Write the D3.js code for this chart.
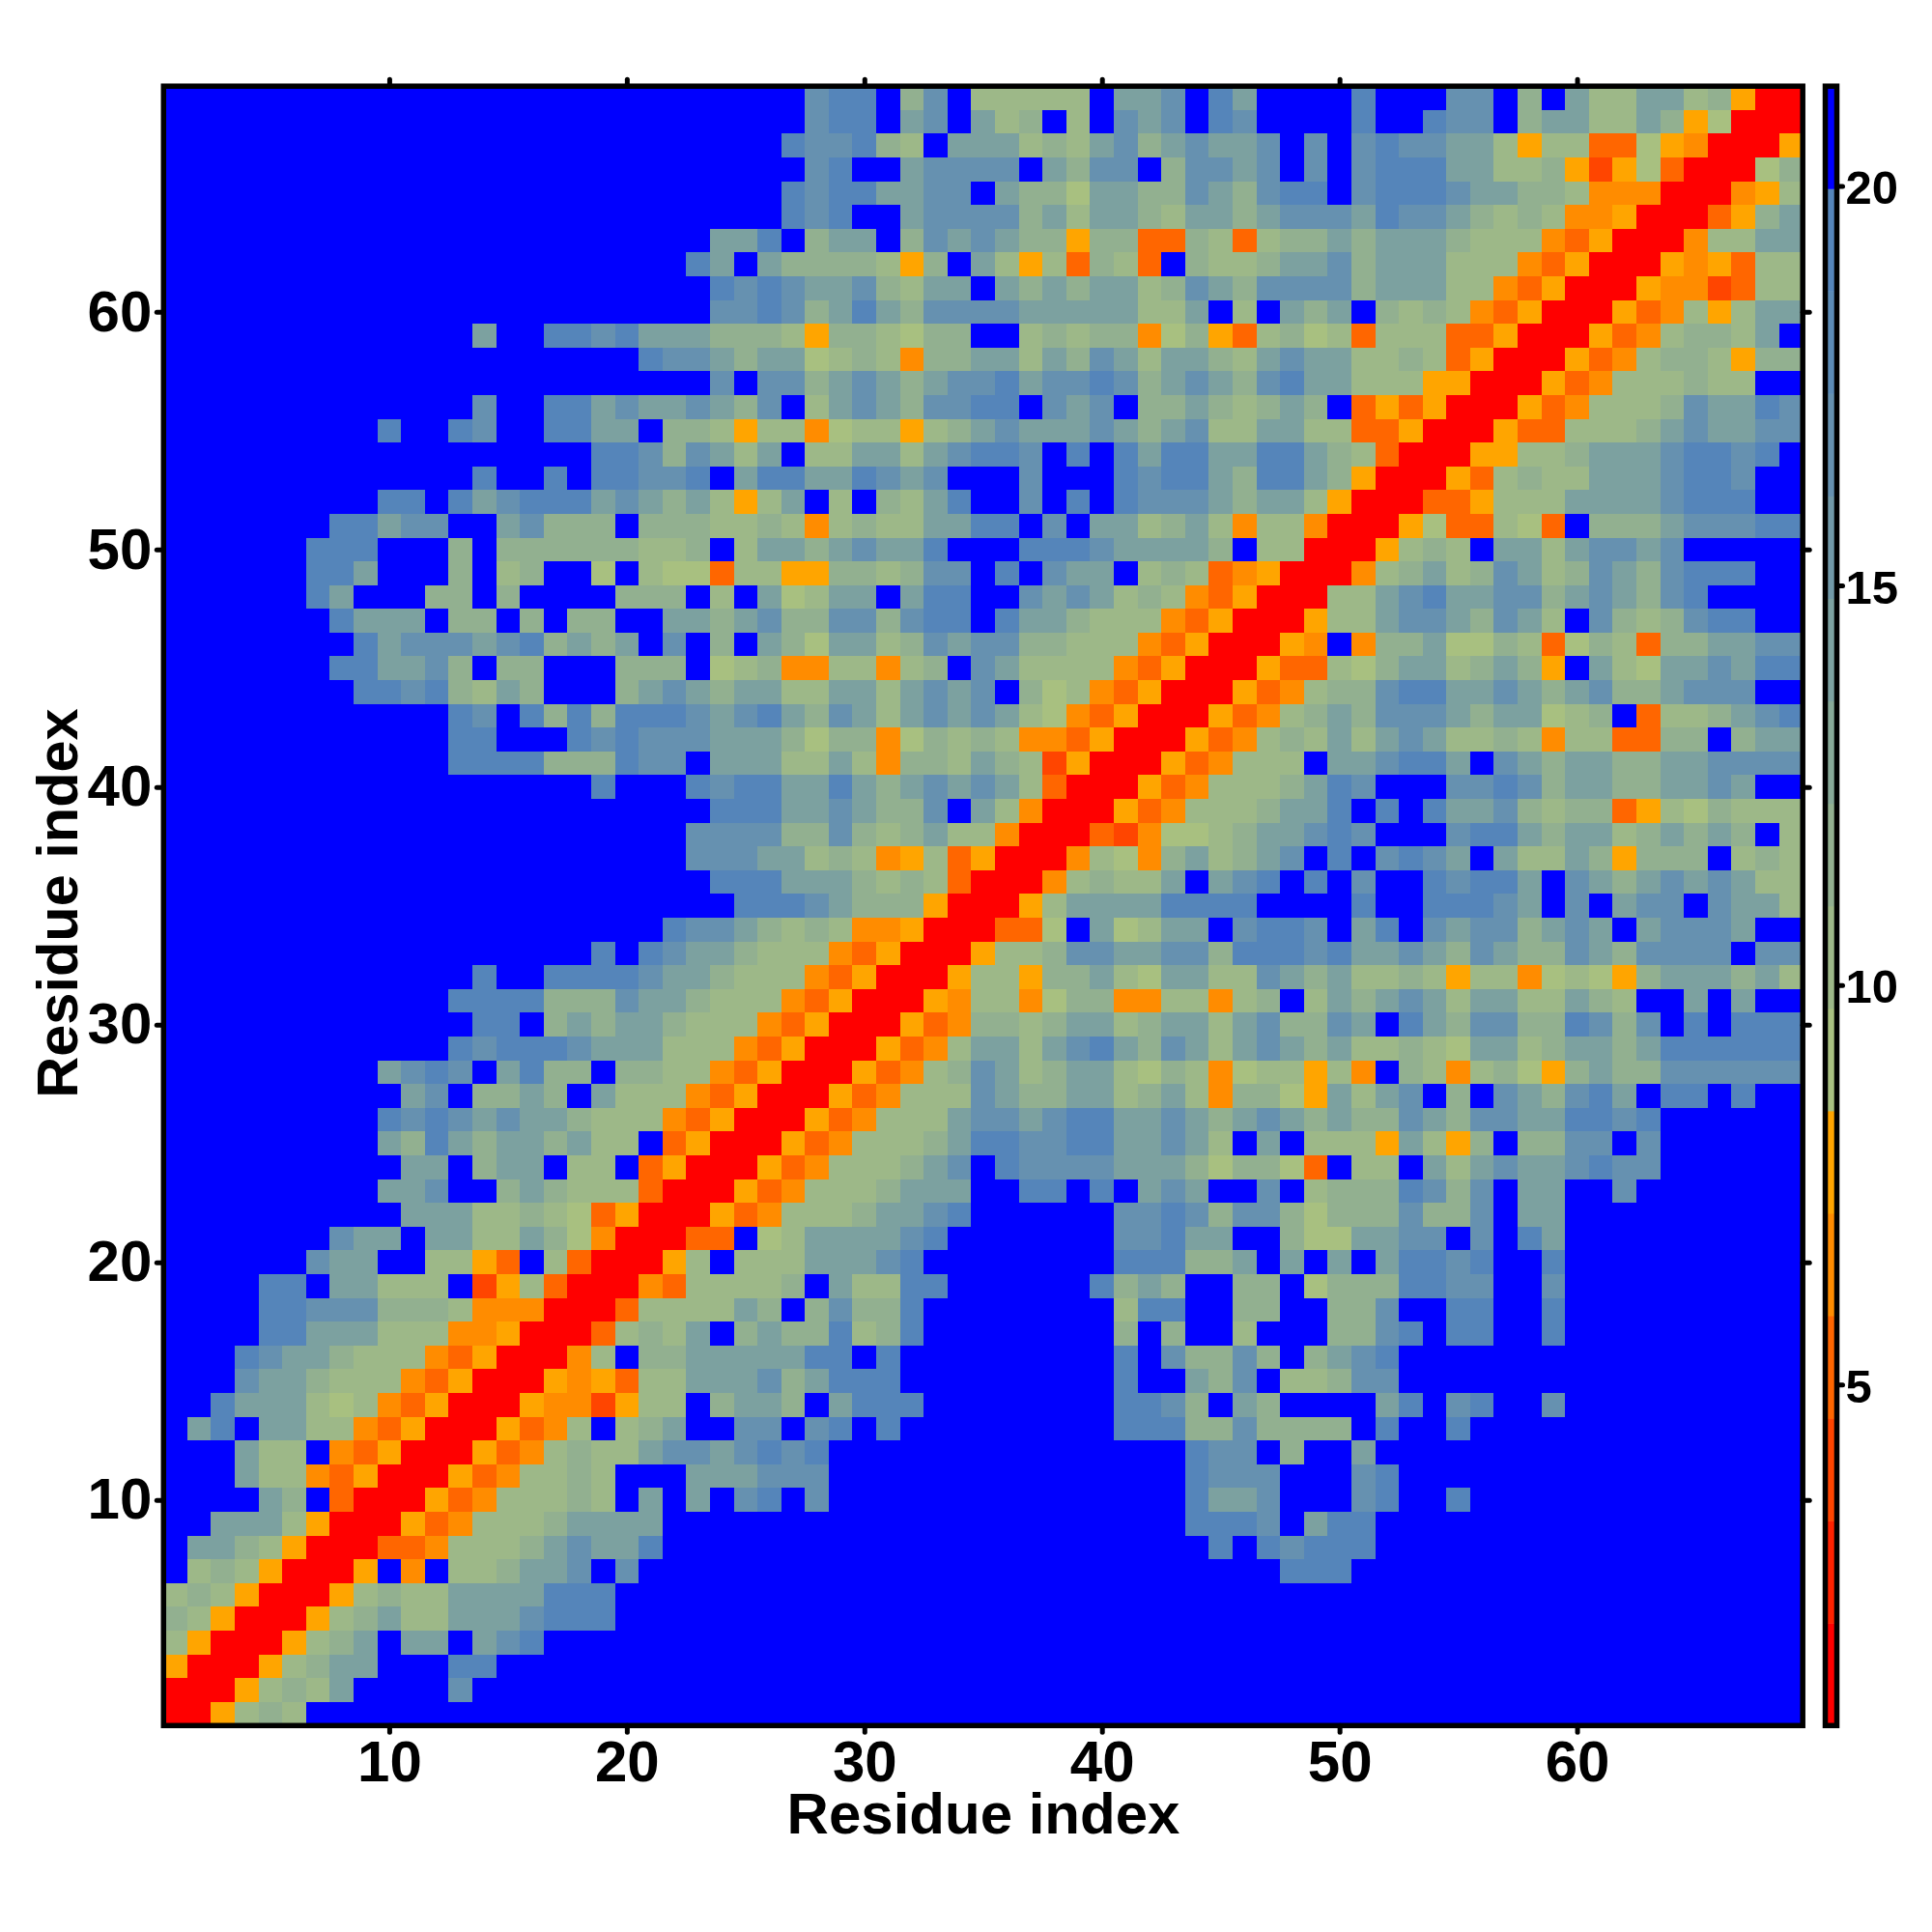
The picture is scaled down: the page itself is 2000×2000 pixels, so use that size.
<!DOCTYPE html>
<html>
<head>
<meta charset="utf-8">
<style>
html,body{margin:0;padding:0;background:#fff}
svg{display:block}
text{font-family:"Liberation Sans",Arial,sans-serif;font-weight:bold;fill:#000}
</style>
<script src="https://cdn.jsdelivr.net/npm/d3@7"></script>
</head>
<body>
<svg id="chart" width="2000" height="2000"></svg>
<script>
// Residue index rows, top row (69) first; each row = three 23-cell groups of level letters
const gridRows = [
"BBBBBBBBBBBBBBBBBBBBBBB BBBBbaaBdbBeeeeeBccbBac BBBBaBBBbbBdBceeccedorr",
"BBBBBBBBBBBBBBBBBBBBBBB BBBBbaaBcbBcedBeBbcbBab BBBBaBBabbBdcceecdofrrr",
"BBBBBBBBBBBBBBBBBBBBBBB BBBabbadeBcccedecbdcbcc bBbBbabbcceoeemmfonrrro",
"BBBBBBBBBBBBBBBBBBBBBBB BBBBbaBBcbbbbBcdbbBdbbc bBbBbaaacceedolofmrrrfd",
"BBBBBBBBBBBBBBBBBBBBBBB BBBabaaccbbBcddfccddbcd baaBbaaabccddennnrrrnoe",
"BBBBBBBBBBBBBBBBBBBBBBB BBBabaBBcbbbbdceccdeccd cbbbcabbcdedennorrrmodc",
"BBBBBBBBBBBBBBBBBBBBBBB ccaBdccBdbcbcddoddmmdem eddcdcccdeeenmorrrneecc",
"BBBBBBBBBBBBBBBBBBBBBBa cBcddddeodBceoemdemBdee dccbdccceeenmorrronomee",
"BBBBBBBBBBBBBBBBBBBBBBB ababccbdeccBcdcdccedbcd bbbbdccceenmorrronnlmee",
"BBBBBBBBBBBBBBBBBBBBBBB bbabdcacdbbbbccccceecBe BcdcBdedenmorrromneoecc",
"BBBBBBBBBBBBBcBBaabaccc dddeoddefddBBededdnfdom edfemeeemmorrromneddecB",
"BBBBBBBBBBBBBBBBBBBBabb cdccfedenddccecdbceccde cbcceedemorrromneddeodd",
"BBBBBBBBBBBBBBBBBBBBBBB bBbbdcbcdcbbacbbabdcbcd bacceeeoorrromneeedeeBB",
"BBBBBBBBBBBBBbBBaacbccb cdbBecbcdbbaaBbcbBddcde dcdBmomorrromneeedbccab",
"BBBBBBBBBaBBabBBaaccBdd eoeenfeeoedcbcccbcdcbee cceemmorrrommeeedcbccbb",
"BBBBBBBBBBBBBBBBBBaabdb cecBeeccecbaabBaBacaacc aacdemrrrooeedcccbaabaB",
"BBBBBBBBBBBBBaBBaBaabba BcaaccabcbBBBbBBBabaacd aacdorrromedeecccbaabBB",
"BBBBBBBBBaaBacbaaacbcdc eoecBeBdecaBBbBaBabbbcd cceorrrmmoeeeccccbaaaBB",
"BBBBBBBaacbbBBcbdddBddd eedenedeeccaaBbBccedcen eenrrrofmmefmBdddcbbbaa",
"BBBBBBaaaBBBdBddddddeed BeccdcbccaBBBaaabccccdB eerrroedeBccecbbcbBBBBB",
"BBBBBBaacBBBdBedBBfBeff meeooddedbbBaBbccBedemn orrrnedcedbcedbcdbaaaBB",
"BBBBBBacBBBddBdBBBBdddB eBcfeccBcaaBBbcbcedenmo rrreecbaccbbdcbcdbaBBBB",
"BBBBBBBacccBddBdBddBBcc dcbddbbdbaaBaccdeeenmor rroeecbbcdbceBbdedbaaBB",
"BBBBBBBBacbbbcbadcdcBbB dBcdfccedbcbbddeeenmorr ronBnddcffdemfdemddccbb",
"BBBBBBBaaccbdBddBBBdddB fednneenedBbceeeenmorrr ommefdccedcdoBcefccbcaa",
"BBBBBBBBaabadecdBBBdcbc dcceeccecbcbBdfenmorrro mneddbaaccbcdcbddcbbbBB",
"BBBBBBBBBBBBabBadadaaab cbacdbcecbcbcefnmorrrom nedcdbbbcdccfedBmeedcba",
"BBBBBBBBBBBBaaBBBababbb cccdfddnfdedennmorrromn edececbceedeneemmddBdcc",
"BBBBBBBBBBBBaaaadddabbB ccceecenddecdelorrromne eeBccbaacBbcdccddccbbbb",
"BBBBBBBBBBBBBBBBBBaBBBa baaccacdcbcbcemrrromnee edcabBBBbbabdccddccbcBB",
"BBBBBBBBBBBBBBBBBBBBBBB aaaccbcddbBcenrrromneee dccaBaBaccbdeddmoefdeee",
"BBBBBBBBBBBBBBBBBBBBBBb bbbddbdedceenrrrmlnffed ccbabBBBbaacdccedcdcdBe",
"BBBBBBBBBBBBBBBBBBBBBBb bbccedenoemorrrnefndced cbBaBbabcBceecdodddBede",
"BBBBBBBBBBBBBBBBBBBBBBB aaacccdedemrrrnedeecBcb aBaBbBBabaacBbcdcbcbcee",
"BBBBBBBBBBBBBBBBBBBBBBB Baaabcdddorrroeccccaaaa BBBBaBBaaabcBbBcbbBbcce",
"BBBBBBBBBBBBBBBBBBBBBab bcdedennorrrmmfBcfeccBb aabBcaBbcbbdcbcBcbbbcBB",
"BBBBBBBBBBBBBBBBBBaBabc cdeeenmorrroeedbbccbbda aabaccbcdbcddbcdbbbbBbb",
"BBBBBBBBBBBBBaBBaaaabcc deeenmorrroeeoddcefccee bcdceedeoeenfefodcccdce",
"BBBBBBBBBBBBaaaadddbccd eeenmorrroneenfddnneene dBecdcbcecceecdeBBcBcBB",
"BBBBBBBBBBBBBaaBdcdccde eenmorrromnddedccedccec bddbcBacdbbddabdbBaBaaa",
"BBBBBBBBBBBBabaaabcccee enmorrromneccecbacdbcec bcdceedefccedccdcaaaaaa",
"BBBBBBBBBcbabBcaddBddee nmorrromnedbcedccefdenf eeoenBdenedfodcddbbbbbb",
"BBBBBBBBBBcbBddcdBceeen morrromneeebcddccedcend dfocecbBdBbcdbacBaaBaBB",
"BBBBBBBBBababcbccdeeenm orrromneeecbbcbaaccbcdc bcdcddbcdbbccaabaBBBBBB",
"BBBBBBBBBcdacdccdceeBmo rrromneeedcaabbaaccbceB cBeeeoceodBddbbBbBBBBBB",
"BBBBBBBBBBccBdccBeeBmor rromneeedcbBabbbbcccdfd dfmBeeBcecbccbabbBBBBBB",
"BBBBBBBBBccbBBdcdeeemrr romneeedcccBBaaBaBcbcBB bBedddabdbBccBBbBBBBBBB",
"BBBBBBBBBBccceedefmorrr omneeedccbaBBBBBBbbabdb bdfdddbddbBccBBBBBBBBBB",
"BBBBBBBbccBcceecdfnrrrm mBfeccccbaBBBBBBBbbaccB BdffccbbBbBacBBBBBBBBBB",
"BBBBBBbccBBeeomBemrrroe BeeecccbaBBBBBBBBaaaddc BcBcBcaabaBBaBBBBBBBBBB",
"BBBBaaBcceeeBloemrrrnme eeedBceeaaBBBBBBadcdBBd dBfdddaabbBBbBBBBBBBBBB",
"BBBBaabbbdddennnrrrmeee ecdBdbddaBBBBBBBBeaaBBd dBBddbBBaaBBaBBBBBBBBBB",
"BBBBaaccceeennorrrmedec BdcddaedaBBBBBBBBdBdBBe BBBddbaBaaBBaBBBBBBBBBB",
"BBBabccdeeenmorrrneBddc ccccaaBaBBBBBBBBBaBbddb dBdcbaBBBBBBBBBBBBBBBBB",
"BBBbccdeeenmorrronomeec ccbdcaaaBBBBBBBBBaBBcdb BeedbbBBBBBBBBBBBBBBBBB",
"BBacccefenmorrronnloeeB dccdBcaaaBBBBBBBBaabdBc dBBBBcaBbaBBbBBBBBBBBBB",
"BcaBcceenmorrromneBedcB BbbBbaBaBBBBBBBBBaaaddb ddddBaBBaBBBBBBBBBBBBBB",
"BBBceeBnmorrromnedeecbb cbabaBBBBBBBBBBBBBBBabb BdBBcBBBBBBBBBBBBBBBBBB",
"BBBceenmorrromneedeBBBc ccbbbBBBBBBBBBBBBBBBabb bBBBbaBBBBBBBBBBBBBBBBB",
"BBBBcdBmrrromneeedeBcBc BbaBbBBBBBBBBBBBBBBBacc bBBBbaBBaBBBBBBBBBBBBBB",
"BBccceorrromneeedccccBB BBBBBBBBBBBBBBBBBBBBaaa bBcaaBBBBBBBBBBBBBBBBBB",
"BccdeorrrmmneeedcbccaBB BBBBBBBBBBBBBBBBBBBBBaB abaaaBBBBBBBBBBBBBBBBBB",
"BedeorrroBnBeedccbBbBBB BBBBBBBBBBBBBBBBBBBBBBB BaaaBBBBBBBBBBBBBBBBBBB",
"edeorrroedeeccccaaaBBBB BBBBBBBBBBBBBBBBBBBBBBB BBBBBBBBBBBBBBBBBBBBBBB",
"deorrroedceecccbaaaBBBB BBBBBBBBBBBBBBBBBBBBBBB BBBBBBBBBBBBBBBBBBBBBBB",
"eorrroedcBccBcbaBBBBBBB BBBBBBBBBBBBBBBBBBBBBBB BBBBBBBBBBBBBBBBBBBBBBB",
"orrroedccBBBaaBBBBBBBBB BBBBBBBBBBBBBBBBBBBBBBB BBBBBBBBBBBBBBBBBBBBBBB",
"rrroedecBBBBbBBBBBBBBBB BBBBBBBBBBBBBBBBBBBBBBB BBBBBBBBBBBBBBBBBBBBBBB",
"rroedeBBBBBBBBBBBBBBBBB BBBBBBBBBBBBBBBBBBBBBBB BBBBBBBBBBBBBBBBBBBBBBB"
];
const levelLetters = ["r","l","m","n","o","f","e","d","c","b","a","B"];
const levelValues  = [1.4,3.9,5.2,6.5,7.8,9.1,10.3,11.6,14.2,16.7,19.3,20.6];
const paletteColors = ["#ff0000","#ff2200","#ff4500","#ff6600","#ff8c00","#ffa500",
  "#a8c080","#9db888","#92b090","#87a998","#7ca1a0","#7199a8","#6691b0","#5c8bb6","#5585ba","#0000ff"];
const axisTicks = [10,20,30,40,50,60];
const colorbarTicks = [5,10,15,20];
const axisTitle = "Residue index";
const residueDomain = [0.5,69.5];
const valueDomain = [0.73,21.25];

const valueOf = new Map(levelLetters.map((l,i)=>[l,levelValues[i]]));
const cells = [];
gridRows.forEach((raw,i)=>{
  const row = raw.replace(/ /g,"");
  if(row.length!==69) throw new Error("row "+(69-i)+" has length "+row.length);
  for(let c=0;c<69;c++) cells.push({x:c+1,y:69-i,v:valueOf.get(row[c])});
});

const svg = d3.select("#chart");
const L=169.3,R=1866.2,T=89.2,B=1786.3;
const x = d3.scaleLinear().domain(residueDomain).range([L,R]);
const y = d3.scaleLinear().domain(residueDomain).range([B,T]);
const color = d3.scaleQuantize().domain(valueDomain).range(paletteColors);

svg.append("g").attr("shape-rendering","crispEdges").selectAll("rect").data(cells).join("rect")
  .attr("x",d=>x(d.x-.5)).attr("y",d=>y(d.y+.5))
  .attr("width",d=>x(d.x+.5)-x(d.x-.5)+.5).attr("height",d=>y(d.y-.5)-y(d.y+.5)+.5)
  .attr("fill",d=>color(d.v));

const styleAxis=(g,fs)=>{
  g.select(".domain").remove();
  g.selectAll("line").attr("stroke","#000").attr("stroke-width",5).attr("stroke-linecap","round");
  g.selectAll("text").attr("font-size",fs).attr("fill","#000");
};
const tl=7;
svg.append("g").attr("transform",`translate(0,${B})`)
  .call(d3.axisBottom(x).tickValues(axisTicks).tickSize(tl).tickPadding(8).tickFormat(d3.format("d")))
  .call(styleAxis,60);
svg.append("g").attr("transform",`translate(0,${T})`)
  .call(d3.axisTop(x).tickValues(axisTicks).tickSize(tl).tickFormat(""))
  .call(styleAxis,60);
svg.append("g").attr("transform",`translate(${L},0)`)
  .call(d3.axisLeft(y).tickValues(axisTicks).tickSize(tl).tickPadding(5).tickFormat(d3.format("d")))
  .call(styleAxis,60);
svg.append("g").attr("transform",`translate(${R},0)`)
  .call(d3.axisRight(y).tickValues(axisTicks).tickSize(tl).tickFormat(""))
  .call(styleAxis,60);
svg.append("rect").attr("x",L).attr("y",T).attr("width",R-L).attr("height",B-T)
  .attr("fill","none").attr("stroke","#000").attr("stroke-width",5.5);

svg.append("text").attr("x",1018).attr("y",1898).attr("text-anchor","middle").attr("font-size",60).text(axisTitle);
svg.append("text").attr("transform","translate(80,935) rotate(-90)").attr("text-anchor","middle").attr("font-size",59.5).text(axisTitle);

// colour bar
const cbL=1889.5,cbR=1901.5;
const cy = d3.scaleLinear().domain(valueDomain).range([B,T]);
const bandW=(valueDomain[1]-valueDomain[0])/paletteColors.length;
svg.append("g").selectAll("rect").data(paletteColors).join("rect")
  .attr("x",cbL).attr("width",cbR-cbL)
  .attr("y",(d,i)=>cy(valueDomain[0]+(i+1)*bandW))
  .attr("height",(d,i)=>cy(valueDomain[0]+i*bandW)-cy(valueDomain[0]+(i+1)*bandW)+.5)
  .attr("fill",d=>d);
svg.append("g").attr("transform",`translate(${cbR},0)`)
  .call(d3.axisRight(cy).tickValues(colorbarTicks).tickSize(6).tickPadding(3).tickFormat(d3.format("d")))
  .call(styleAxis,49)
  .call(g=>g.selectAll("text").attr("dy","0.37em"));
svg.append("rect").attr("x",cbL).attr("y",T).attr("width",cbR-cbL).attr("height",B-T)
  .attr("fill","none").attr("stroke","#000").attr("stroke-width",5.5);
</script>
</body>
</html>
